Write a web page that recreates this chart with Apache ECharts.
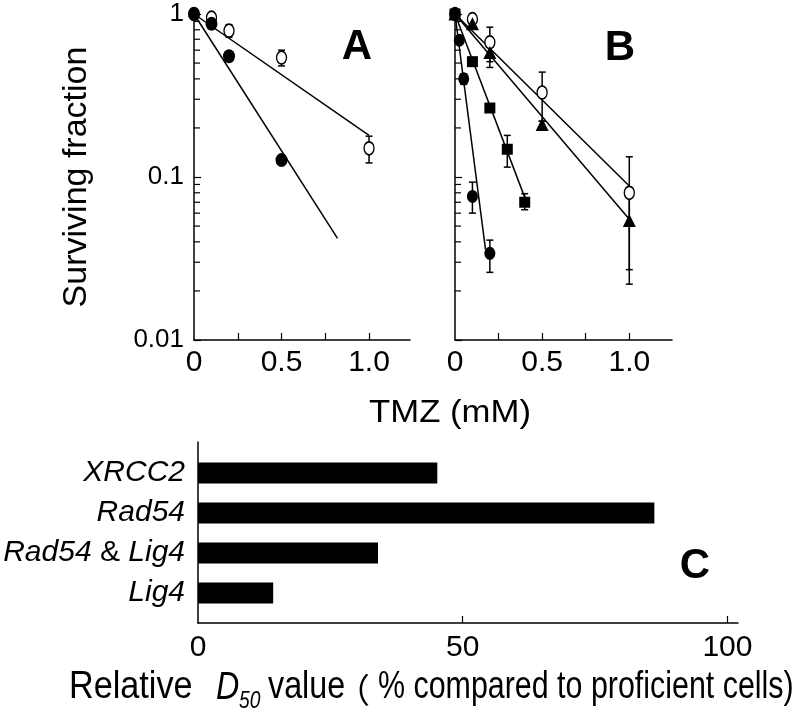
<!DOCTYPE html>
<html><head><meta charset="utf-8">
<script src="https://cdn.jsdelivr.net/npm/echarts@6/dist/echarts.min.js"></script>
<style>html,body{margin:0;padding:0;background:#fff}#c{width:800px;height:717px}</style>
</head><body><div id="c"></div>
<script>
// ---------- Panel A ----------
const doseA_filled = [0, 0.1, 0.2, 0.5];
const survA_filled = [1.0, 0.87, 0.55, 0.127];
const doseA_open = [0, 0.1, 0.2, 0.5, 1.0];
const survA_open = [1.0, 0.95, 0.79, 0.54, 0.15];
const errA_open = [[0.2, 0.72, 0.86], [0.5, 0.48, 0.60], [1.0, 0.122, 0.178]];
const fitA_open = [[0, 1], [1.0, 0.18]];
const fitA_filled = [[0, 1], [0.82, 0.042]];
// ---------- Panel B ----------
const doseB_open = [0, 0.1, 0.2, 0.5, 1.0];
const survB_open = [1.0, 0.93, 0.67, 0.33, 0.08];
const doseB_tri = [0, 0.1, 0.2, 0.5, 1.0];
const survB_tri = [1.0, 0.87, 0.58, 0.21, 0.054];
const doseB_sq = [0, 0.1, 0.2, 0.3, 0.4];
const survB_sq = [1.0, 0.51, 0.265, 0.148, 0.07];
const doseB_filled = [0, 0.025, 0.05, 0.1, 0.2];
const survB_filled = [1.0, 0.69, 0.40, 0.076, 0.034];
const errB_open = [[0.2, 0.51, 0.83], [0.5, 0.22, 0.44], [1.0, 0.027, 0.133]];
const errB_tri = [[0.2, 0.47, 0.66], [0.5, 0.20, 0.22], [1.0, 0.022, 0.086]];
const errB_sq = [[0.3, 0.115, 0.18], [0.4, 0.063, 0.079]];
const errB_filled = [[0.05, 0.37, 0.43], [0.1, 0.06, 0.093], [0.2, 0.026, 0.041]];
const fitB_open = [[0, 1], [1.0, 0.088]];
const fitB_tri = [[0, 1], [1.0, 0.055]];
const fitB_sq = [[0, 1], [0.4, 0.075]];
const fitB_filled = [[0, 1], [0.175, 0.036]];
// ---------- Axes ticks ----------
const yTickValues = [0.01, 0.1, 1];
const yTickLabels = ['0.01', '0.1', '1'];
const yMinorTicks = [0.02, 0.03, 0.04, 0.05, 0.06, 0.07, 0.08, 0.09, 0.2, 0.3, 0.4, 0.5, 0.6, 0.7, 0.8, 0.9];
const xTickValues = [0.25, 0.5, 0.75, 1.0];
const xLabelValues = [0, 0.5, 1.0];
const xLabelTexts = ['0', '0.5', '1.0'];
// ---------- Panel C ----------
const categoriesC = ['XRCC2', 'Rad54', 'Rad54 & Lig4', 'Lig4'];
const valuesC = [45.2, 86.2, 34.0, 14.2];
const cTickValues = [50, 100];
const cLabelValues = [0, 50, 100];

const FF = 'Liberation Sans, Arial, sans-serif';
const zip = (xs, ys) => xs.map((x, i) => [x, ys[i]]);
const near = (a, b) => Math.abs(a - b) <= 1e-6 * Math.max(Math.abs(a), Math.abs(b));

function errRender(params, api) {
  const x = api.value(0), lo = api.value(1), hi = api.value(2);
  const a = api.coord([x, lo]), b = api.coord([x, hi]);
  const c = 3.5, st = {stroke: '#000', lineWidth: 1.5};
  return {type: 'group', children: [
    {type: 'line', shape: {x1: a[0], y1: a[1], x2: b[0], y2: b[1]}, style: st},
    {type: 'line', shape: {x1: a[0] - c, y1: a[1], x2: a[0] + c, y2: a[1]}, style: st},
    {type: 'line', shape: {x1: b[0] - c, y1: b[1], x2: b[0] + c, y2: b[1]}, style: st}
  ]};
}
function minorRender(params, api) {
  const p = api.coord([api.value(0), api.value(1)]);
  return {type: 'line', shape: {x1: p[0], y1: p[1], x2: p[0] + 6, y2: p[1]}, style: {stroke: '#000', lineWidth: 1.2}};
}

function xAxisLog(gi, max) {
  return {
    type: 'value', gridIndex: gi, min: 0, max: max,
    axisLine: {show: true, onZero: false, lineStyle: {color: '#000', width: 1.5}},
    axisTick: {show: true, inside: true, length: 7, customValues: xTickValues, lineStyle: {color: '#000', width: 1.2}},
    axisLabel: {show: true, customValues: xLabelValues, margin: 8, fontSize: 30, fontFamily: FF, color: '#000',
      formatter: v => { const i = xLabelValues.findIndex(t => Math.abs(t - v) < 1e-9); return i >= 0 ? xLabelTexts[i] : ''; }},
    splitLine: {show: false}
  };
}
function yAxisLog(gi, labels) {
  return {
    type: 'log', logBase: 10, gridIndex: gi, min: 0.01, max: 1,
    axisLine: {show: true, lineStyle: {color: '#000', width: 1.5}},
    axisTick: {show: true, inside: true, length: 7, lineStyle: {color: '#000', width: 1.2}},
    axisLabel: {show: labels, margin: 10, fontSize: 26, fontFamily: FF, color: '#000',
      formatter: v => { const i = yTickValues.findIndex(t => near(t, v)); return i >= 0 ? yTickLabels[i] : ''; }},
    splitLine: {show: false}, minorTick: {show: false}
  };
}

function lineS(xi, data) {
  return {type: 'line', xAxisIndex: xi, yAxisIndex: xi, data: data, symbol: 'none', silent: true,
    lineStyle: {color: '#000', width: 1.5}, z: 2};
}
function errS(xi, data) {
  return {type: 'custom', xAxisIndex: xi, yAxisIndex: xi, data: data, renderItem: errRender,
    encode: {x: 0, y: [1, 2]}, silent: true, z: 3};
}
function ptS(xi, data, symbol, size, filled) {
  return {type: 'scatter', xAxisIndex: xi, yAxisIndex: xi, data: data, symbol: symbol, symbolSize: size, silent: true,
    itemStyle: {color: filled ? '#000' : '#fff', borderColor: '#000', borderWidth: filled ? 0 : 1.5, opacity: 1}, z: 4};
}

const chart = echarts.init(document.getElementById('c'), null, {renderer: 'canvas'});
chart.setOption({
  animation: false,
  backgroundColor: '#fff',
  grid: [
    {left: 194, right: 390, top: 14, bottom: 377, outerBoundsMode: 'none', containLabel: false},
    {left: 455, right: 128, top: 14, bottom: 377, outerBoundsMode: 'none', containLabel: false},
    {left: 198, right: 62, top: 442, bottom: 94, outerBoundsMode: 'none', containLabel: false},
    {left: 198, right: 62, top: 453, bottom: 104, outerBoundsMode: 'none', containLabel: false}
  ],
  xAxis: [
    xAxisLog(0, 1.234),
    xAxisLog(1, 1.245),
    {type: 'value', gridIndex: 2, min: 0, max: 102,
      axisLine: {show: true, onZero: false, lineStyle: {color: '#000', width: 1.5}},
      axisTick: {show: true, inside: true, length: 7, customValues: cTickValues, lineStyle: {color: '#000', width: 1.2}},
      axisLabel: {show: true, customValues: cLabelValues, margin: 10, fontSize: 30, fontFamily: FF, color: '#000'},
      splitLine: {show: false}},
    {type: 'value', gridIndex: 3, min: 0, max: 102, show: false}
  ],
  yAxis: [
    Object.assign(yAxisLog(0, true), {name: 'Surviving fraction', nameLocation: 'middle', nameGap: 100,
      nameTextStyle: {fontSize: 34, fontFamily: FF, color: '#000'}}),
    yAxisLog(1, false),
    {type: 'value', gridIndex: 2, min: 0, max: 1,
      axisLine: {show: true, onZero: false, lineStyle: {color: '#000', width: 1.5}},
      axisTick: {show: false}, axisLabel: {show: false}, splitLine: {show: false}},
    {type: 'category', gridIndex: 3, data: categoriesC, inverse: true,
      axisLine: {show: false}, axisTick: {show: false}, splitLine: {show: false},
      axisLabel: {margin: 13, fontSize: 30, fontStyle: 'italic', fontFamily: FF, color: '#000',
        formatter: v => v.split(' & ').map(s => '{i|' + s + '}').join(' {n|&} '),
        rich: {i: {fontSize: 30, fontStyle: 'italic', fontFamily: FF, color: '#000'},
               n: {fontSize: 30, fontStyle: 'normal', fontFamily: FF, color: '#000'}}}}
  ],
  series: [
    {type: 'custom', xAxisIndex: 0, yAxisIndex: 0, data: yMinorTicks.map(v => [0, v]), renderItem: minorRender, encode: {x: 0, y: 1}, silent: true},
    {type: 'custom', xAxisIndex: 1, yAxisIndex: 1, data: yMinorTicks.map(v => [0, v]), renderItem: minorRender, encode: {x: 0, y: 1}, silent: true},
    lineS(0, fitA_open), lineS(0, fitA_filled),
    errS(0, errA_open),
    ptS(0, zip(doseA_open, survA_open), 'circle', [10, 13], false),
    ptS(0, zip(doseA_filled, survA_filled), 'circle', [12, 14], true),
    lineS(1, fitB_open), lineS(1, fitB_tri), lineS(1, fitB_sq), lineS(1, fitB_filled),
    errS(1, errB_open), errS(1, errB_tri), errS(1, errB_sq), errS(1, errB_filled),
    ptS(1, zip(doseB_open, survB_open), 'circle', [10, 13], false),
    ptS(1, zip(doseB_tri, survB_tri), 'triangle', [13, 13], true),
    ptS(1, zip(doseB_sq, survB_sq), 'rect', [11, 11], true),
    ptS(1, zip(doseB_filled, survB_filled), 'circle', [11, 13], true),
    {type: 'bar', xAxisIndex: 3, yAxisIndex: 3, data: valuesC, barWidth: 21, silent: true,
      itemStyle: {color: '#000'}}
  ],
  graphic: [
    {type: 'text', x: 357, y: 47, style: {text: 'A', fontSize: 42, fontWeight: 'bold', fontFamily: FF, fill: '#000', align: 'center', verticalAlign: 'middle'}},
    {type: 'text', x: 620, y: 48, style: {text: 'B', fontSize: 42, fontWeight: 'bold', fontFamily: FF, fill: '#000', align: 'center', verticalAlign: 'middle'}},
    {type: 'text', x: 695, y: 566, style: {text: 'C', fontSize: 42, fontWeight: 'bold', fontFamily: FF, fill: '#000', align: 'center', verticalAlign: 'middle'}},
    {type: 'text', x: 450, y: 413, scaleX: 1.12, style: {text: 'TMZ (mM)', fontSize: 31, fontFamily: FF, fill: '#000', align: 'center', verticalAlign: 'middle'}},
    {type: 'text', x: 69, y: 688, scaleX: 0.9, style: {text: 'Relative', fontSize: 38, fontFamily: FF, fill: '#000', align: 'left', verticalAlign: 'middle'}},
    {type: 'text', x: 216, y: 688, scaleX: 0.85, style: {text: 'D', fontSize: 38, fontStyle: 'italic', fontFamily: FF, fill: '#000', align: 'left', verticalAlign: 'middle'}},
    {type: 'text', x: 239, y: 701, scaleX: 0.8, style: {text: '50', fontSize: 24, fontStyle: 'italic', fontFamily: FF, fill: '#000', align: 'left', verticalAlign: 'middle'}},
    {type: 'text', x: 268, y: 688, scaleX: 0.85, style: {text: 'value', fontSize: 38, fontFamily: FF, fill: '#000', align: 'left', verticalAlign: 'middle'}},
    {type: 'text', x: 336, y: 690, style: {text: '（', fontSize: 34, fontFamily: 'Noto Sans CJK SC, sans-serif', fill: '#000', align: 'left', verticalAlign: 'middle'}},
    {type: 'text', x: 378, y: 688, scaleX: 0.8, style: {text: '% compared to proficient cells)', fontSize: 38, fontFamily: FF, fill: '#000', align: 'left', verticalAlign: 'middle'}}
  ]
});
</script>
</body></html>
